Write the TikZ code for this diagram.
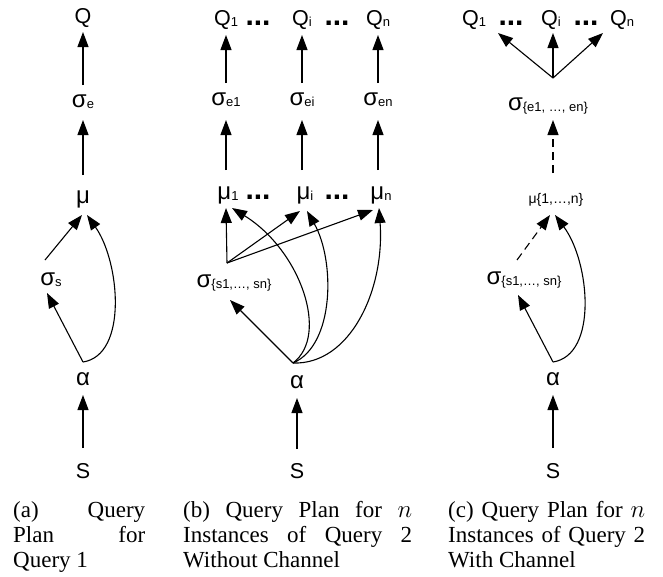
\documentclass[tikz,border=0pt]{standalone}
\usepackage{fontspec}
\setmainfont{Liberation Serif}
\newfontfamily\diag{Liberation Sans}
\usetikzlibrary{arrows.meta,calc}
\newcommand{\gk}[1]{{\fontsize{24}{24}\selectfont #1}}
\newcommand{\sbs}[1]{\raisebox{-1.5pt}{\fontsize{13}{13}\selectfont #1}}
\newcommand{\lt}[1]{{\fontsize{21.5}{21.5}\selectfont #1}}
\newcommand{\dts}{{\fontsize{30}{30}\selectfont\bfseries ...}}
\begin{document}
\begin{tikzpicture}[x=1pt,y=-1pt,
  lbl/.style={anchor=base, inner sep=0pt, font=\diag},
  arr/.style={-{Triangle[length=15pt,width=11pt]}, line width=1.1pt},
  darr/.style={arr, dash pattern=on 8pt off 5pt},
  capt/.style={anchor=north west, inner sep=0pt, align=justify, font=\fontsize{23}{25}\selectfont}
]
\useasboundingbox (0,0) rectangle (663,576);

% ---------- panel (a)
\node[lbl] (Qa) at (83,23) {\lt{Q}};
\node[lbl] (sea) at (83,107) {\gk{σ}\sbs{e}};
\node[lbl] (mua) at (83,203) {\gk{μ}};
\node[lbl] (ssa) at (51,285) {\gk{σ}\sbs{s}};
\node[lbl] (ala) at (83,385) {\gk{α}};
\node[lbl] (Sa) at (83,478) {\lt{S}};
\draw[arr] ($(Sa.base)+(0,-30)$) -- ($(ala.base)+(0,10)$);
\draw[arr] ($(ala.base)+(0,-23)$) -- ($(ssa.base)+(-4,8)$);
\draw[arr] ($(ssa.base)+(-6,-25)$) -- ($(mua.base)+(-1,12)$);
\draw[arr] ($(ala.base)+(0,-23)$) .. controls (128,355) and (120,262) .. ($(mua.base)+(4,12)$);
\draw[arr] ($(mua.base)+(0,-28)$) -- ($(sea.base)+(0,13)$);
\draw[arr] ($(sea.base)+(0,-22)$) -- ($(Qa.base)+(0,9)$);

% ---------- panel (b)
\node[lbl] (Q1b) at (226,25) {\lt{Q}\sbs{1}};
\node[lbl] (d1b) at (258,25) {\dts};
\node[lbl] (Qib) at (302,25) {\lt{Q}\sbs{i}};
\node[lbl] (d2b) at (337,25) {\dts};
\node[lbl] (Qnb) at (378,25) {\lt{Q}\sbs{n}};
\node[lbl] (se1) at (226,105) {\gk{σ}\sbs{e1}};
\node[lbl] (sei) at (302,105) {\gk{σ}\sbs{ei}};
\node[lbl] (sen) at (378,105) {\gk{σ}\sbs{en}};
\node[lbl] (mu1) at (228,199) {\gk{μ}\sbs{1}};
\node[lbl] (d3b) at (258,199) {\dts};
\node[lbl] (mui) at (305,199) {\gk{μ}\sbs{i}};
\node[lbl] (d4b) at (337,199) {\dts};
\node[lbl] (mun) at (381,199) {\gk{μ}\sbs{n}};
\node[lbl] (ssb) at (234,287) {\gk{σ}\sbs{\{s1,…, sn\}}};
\node[lbl] (alb) at (297,388) {\gk{α}};
\node[lbl] (Sb) at (297,478) {\lt{S}};
\coordinate (vb) at ($(ssb.base)+(-7,-24)$);
\draw[arr] ($(se1.base)+(0,-22)$) -- ($(Q1b.base)+(0,10)$);
\draw[arr] ($(sei.base)+(0,-22)$) -- ($(Qib.base)+(0,10)$);
\draw[arr] ($(sen.base)+(0,-22)$) -- ($(Qnb.base)+(0,10)$);
\draw[arr] ($(mu1.base)+(-2,-29)$) -- ($(se1.base)+(0,15)$);
\draw[arr] ($(mui.base)+(-3,-29)$) -- ($(sei.base)+(0,15)$);
\draw[arr] ($(mun.base)+(-3,-29)$) -- ($(sen.base)+(0,15)$);
\draw[arr] (vb) -- ($(mu1.base)+(-2,9)$);
\draw[arr] (vb) -- ($(mui.base)+(-5,12)$);
\draw[arr] (vb) -- ($(mun.base)+(-8,11)$);
\draw[arr] ($(alb.base)+(-4,-25)$) -- ($(ssb.base)+(-4,13)$);
\draw[arr] ($(alb.base)+(-4,-25)$) .. controls (330,335) and (300,250) .. ($(mu1.base)+(4,9)$);
\draw[arr] ($(alb.base)+(-4,-25)$) .. controls (335,345) and (335,260) .. ($(mui.base)+(2,12)$);
\draw[arr] ($(alb.base)+(-4,-25)$) .. controls (350,365) and (385,290) .. ($(mun.base)+(-2,9)$);
\draw[arr] ($(Sb.base)+(0,-29)$) -- ($(alb.base)+(0,10)$);

% ---------- panel (c)
\node[lbl] (Q1c) at (474,25) {\lt{Q}\sbs{1}};
\node[lbl] (d1c) at (511,25) {\dts};
\node[lbl] (Qic) at (551,25) {\lt{Q}\sbs{i}};
\node[lbl] (d2c) at (586,25) {\dts};
\node[lbl] (Qnc) at (622,25) {\lt{Q}\sbs{n}};
\node[lbl] (sec) at (548,110) {\gk{σ}\sbs{\{e1, …, en\}}};
\coordinate (fork) at ($(sec.base)+(5,-32)$);
\draw[arr] (fork) -- ($(Q1c.base)+(24,8)$);
\draw[arr] (fork) -- ($(Qic.base)+(2,8)$);
\draw[arr] (fork) -- ($(Qnc.base)+(-19,8)$);
\node[lbl] (muc) at (556,203) {\fontsize{14}{14}\selectfont μ\{1,…,n\}};
\draw[darr] ($(muc.base)+(-3,-30)$) -- ($(sec.base)+(5,10)$);
\node[lbl] (ssc) at (524,284) {\gk{σ}\sbs{\{s1,…, sn\}}};
\draw[darr] ($(ssc.base)+(-7,-24)$) -- ($(muc.base)+(-6,12)$);
\node[lbl] (alc) at (553,385) {\gk{α}};
\node[lbl] (Sc) at (553,478) {\lt{S}};
\draw[arr] ($(alc.base)+(0,-23)$) -- ($(ssc.base)+(-6,11)$);
\draw[arr] ($(alc.base)+(0,-23)$) .. controls (598,355) and (590,262) .. ($(muc.base)+(-1,12)$);
\draw[arr] ($(Sc.base)+(0,-30)$) -- ($(alc.base)+(0,10)$);

% ---------- captions
\node[capt, text width=132pt] (capa) at (13,501) {(a) Query\linebreak Plan for\linebreak Query 1};
\node[capt, text width=229pt] (capb) at (183,501) {(b) Query Plan for $n$\linebreak Instances of Query 2\linebreak Without Channel};
\node[capt, text width=197pt] (capc) at (448,501) {(c) Query Plan for $n$\linebreak Instances of Query 2\linebreak With Channel};
\end{tikzpicture}
\end{document}
